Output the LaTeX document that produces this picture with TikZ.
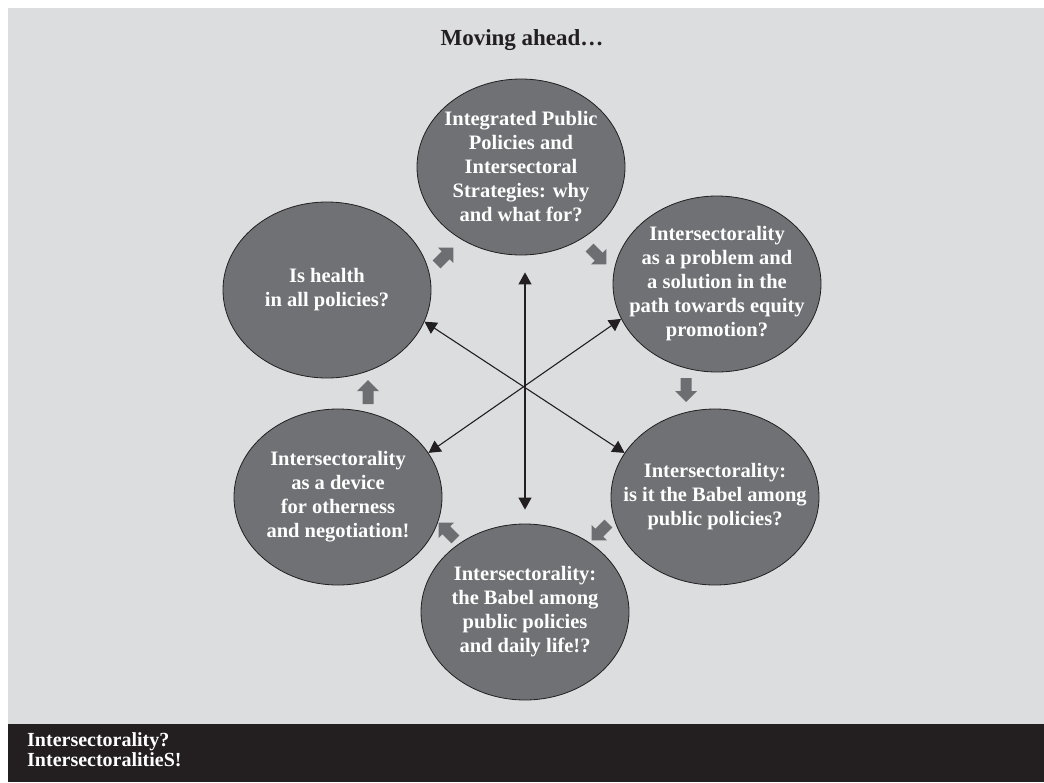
\documentclass[tikz,border=0pt]{standalone}
\usepackage{fontspec}
\setmainfont{Liberation Serif}
\usetikzlibrary{arrows.meta,shapes.geometric}
\definecolor{bg}{HTML}{DCDDDF}
\definecolor{ink}{HTML}{231F20}
\definecolor{discgrey}{HTML}{707174}
\definecolor{blkgrey}{HTML}{6D6E71}
\begin{document}
\begin{tikzpicture}[x=1pt,y=-1pt,
  disc/.style={ellipse, draw=ink, line width=0.8pt, fill=discgrey, minimum width=208pt, minimum height=176pt, inner sep=0pt},
  disctext/.style={text=white, align=center, inner sep=0pt, font=\fontsize{20.5}{24}\selectfont\bfseries},
  link/.style={draw=ink, line width=1.1pt, {Triangle[length=12pt,width=13pt]}-{Triangle[length=12pt,width=13pt]}},
  blockarrow/.pic={\fill[blkgrey] (-12,-5.5) -- (1,-5.5) -- (1,-11) -- (12,0) -- (1,11) -- (1,5.5) -- (-12,5.5) -- cycle;}
]
\useasboundingbox (0,0) rectangle (1044,782);
\fill[bg] (8,8) rectangle (1044,724);
\fill[ink] (8,724) rectangle (1044,782);

\node[anchor=base, text=ink, font=\fontsize{23}{27}\selectfont\bfseries] (title) at (522,45) {Moving ahead\ldots};

\node[disc] (top) at (521,167) {};
\node[disc] (rt) at (717,284) {};
\node[disc] (rb) at (715,497) {};
\node[disc] (bot) at (525,612) {};
\node[disc] (lb) at (338,497) {};
\node[disc] (lt) at (327,290) {};

\node[disctext] (toptx) at (top) {Integrated Public\\Policies and\\Intersectoral\\Strategies: why\\and what for?};
\node[disctext] (rttx) at (rt) {Intersectorality\\as a problem and\\a solution in the\\path towards equity\\promotion?};
\node[disctext] (rbtx) at (rb) {Intersectorality:\\is it the Babel among\\public policies?};
\node[disctext] (bottx) at (bot) {Intersectorality:\\the Babel among\\public policies\\and daily life!?};
\node[disctext] (lbtx) at (lb) {Intersectorality\\as a device\\for otherness\\and negotiation!};
\node[disctext] (lttx) at (lt) {Is health\\in all policies?};

\draw[link, shorten <=17pt, shorten >=14pt] (top.south -| bot) -- (bot.north);
\draw[link] (lt.-18) -- (rb.154);
\draw[link] (rt.200) -- (lb.26);

\pic[rotate=45] (a1) at (445,256) {blockarrow};
\pic[rotate=-45] (a2) at (598,256) {blockarrow};
\pic[rotate=-90] (a3) at (686,390) {blockarrow};
\pic[rotate=-135] (a4) at (600,532) {blockarrow};
\pic[rotate=135] (a5) at (447,531) {blockarrow};
\pic[rotate=90] (a6) at (368,392) {blockarrow};

\node[anchor=base west, text=white, inner sep=0pt, font=\fontsize{20}{24}\selectfont\bfseries] (bt1) at (27,746) {Intersectorality?};
\node[anchor=base west, text=white, inner sep=0pt, font=\fontsize{20}{24}\selectfont\bfseries] (bt2) at (27,766) {IntersectoralitieS!};
\end{tikzpicture}
\end{document}
